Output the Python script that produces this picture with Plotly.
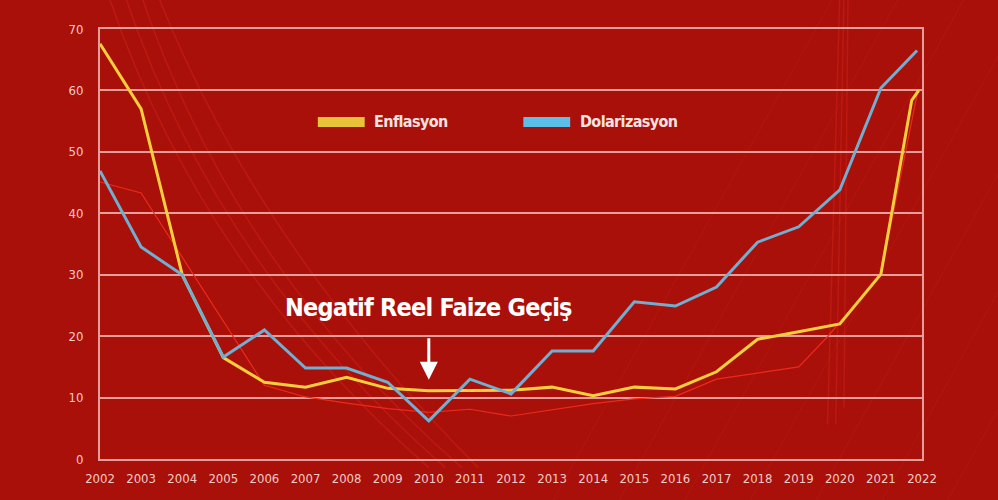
import plotly.graph_objects as go

# Data
YEARS = list(range(2002, 2022))
ENFLASYON = [67.6, 57.0, 30.0, 16.5, 12.5, 11.7, 13.3, 11.5, 11.1, 11.1,
             11.2, 11.7, 10.3, 11.7, 11.4, 14.2, 19.5, 20.7, 22.0, 30.1]
ENF_TAIL_X = [2021.6, 2021.75, 2021.92]        # last months of 2021
ENF_TAIL_Y = [52.5, 58.4, 60.0]

DOLAR_X = YEARS + [2021.88]
DOLAR_Y = [46.9, 34.5, 30.0, 16.6, 21.0, 14.8, 14.8, 12.5, 6.2, 13.0,
           10.6, 17.6, 17.6, 25.6, 24.9, 28.0, 35.3, 37.8, 43.8, 60.4, 66.5]

# thin red decorative series behind the main lines
RED_X = [2002, 2003, 2006, 2007, 2008, 2009, 2010, 2011, 2012, 2013, 2014,
         2015, 2016, 2017, 2018, 2019, 2019.7, 2021, 2021.9]
RED_Y = [45.1, 43.3, 12.0, 10.1, 9.1, 8.2, 7.6, 8.1, 7.0, 8.0, 9.0,
         9.8, 10.2, 13.0, 14.0, 15.0, 19.9, 30.0, 60.0]

Y_TICKS = [0, 10, 20, 30, 40, 50, 60, 70]
X_TICKS = list(range(2002, 2023))

# Colours
BG = "#a9100a"
GRID = "rgba(240,185,180,0.85)"
TICK = "#f2cbc7"
YELLOW = "#f7cf3c"
BLUE = "#6fb0d2"
RED = "#ec2a1c"
FONT = "DejaVu Sans Condensed, DejaVu Sans, sans-serif"


def narrow(s, spacing=0):
    # condensed face via inline style (plotly has no font-stretch option)
    style = "font-stretch:condensed"
    if spacing:
        style += ";letter-spacing:%spx" % spacing
    return '<span style="' + style + '">' + str(s) + "</span>"


fig = go.Figure()

fig.add_trace(go.Scatter(x=RED_X, y=RED_Y, mode="lines",
                         line=dict(color=RED, width=1.2), hoverinfo="skip"))
fig.add_trace(go.Scatter(x=YEARS + ENF_TAIL_X, y=ENFLASYON + ENF_TAIL_Y,
                         mode="lines", name="Enflasyon",
                         line=dict(color=YELLOW, width=3)))
fig.add_trace(go.Scatter(x=DOLAR_X, y=DOLAR_Y, mode="lines",
                         name="Dolarizasyon",
                         line=dict(color=BLUE, width=3)))

# faint background sweeps (decoration)
deco = [
    "M 0.01,1.08 Q 0.12,0.45 0.40,-0.02",
    "M 0.03,1.08 Q 0.14,0.45 0.42,-0.02",
    "M 0.05,1.08 Q 0.16,0.45 0.44,-0.02",
    "M 0.07,1.08 Q 0.19,0.50 0.46,-0.02",
    "M 0.90,1.08 L 0.885,0.08",
    "M 0.905,1.08 L 0.895,0.08",
    "M 0.91,1.08 L 0.905,0.12",
]
for p in deco:
    fig.add_shape(type="path", path=p, xref="paper", yref="paper",
                  line=dict(color="rgba(255,60,40,0.22)", width=1.5),
                  layer="below")
for i in range(8):
    x0 = 0.55 + i * 0.08
    fig.add_shape(type="line", xref="paper", yref="paper",
                  x0=x0, y0=-0.1, x1=x0 + 0.35, y1=1.1,
                  line=dict(color="rgba(255,70,50,0.10)", width=1),
                  layer="below")

# custom legend
legend_items = [("Enflasyon", "#e8c33a", 0.265), ("Dolarizasyon", "#5cbfe8", 0.515)]
for label, col, x0 in legend_items:
    fig.add_shape(type="line", xref="paper", yref="paper",
                  x0=x0, x1=x0 + 0.057, y0=0.784, y1=0.784,
                  line=dict(color=col, width=10))
    fig.add_annotation(xref="paper", yref="paper", x=x0 + 0.066, y=0.786,
                       text=narrow(label, -0.6), showarrow=False, xanchor="left",
                       yanchor="middle",
                       font=dict(family=FONT, size=16, color="#f7e2e0",
                                 weight="bold"))

# annotation with arrow
fig.add_annotation(x=2010, y=24.6, text=narrow("Negatif Reel Faize Geçiş", -0.8),
                   showarrow=False, yanchor="middle",
                   font=dict(family=FONT, size=25, color="white",
                             weight="bold"))
fig.add_annotation(x=2010, y=12.9, text="", showarrow=True, ax=0, ay=-43,
                   arrowcolor="white", arrowwidth=3, arrowhead=2, arrowsize=1.2)

fig.update_xaxes(range=[2002, 2022], tickvals=X_TICKS,
                 ticktext=[narrow(v) for v in X_TICKS], showgrid=False,
                 showline=True, mirror=True, linecolor=GRID, linewidth=2,
                 zeroline=False,
                 tickfont=dict(family=FONT, size=13, color=TICK),
                 ticks="", ticklabelstandoff=6)
fig.update_yaxes(range=[0, 70], tickvals=Y_TICKS,
                 ticktext=[narrow(v) for v in Y_TICKS], showgrid=True,
                 gridcolor=GRID, gridwidth=1.5,
                 showline=True, mirror=True, linecolor=GRID, linewidth=2,
                 zeroline=False,
                 tickfont=dict(family=FONT, size=13, color=TICK),
                 ticks="", ticklabelstandoff=12)

fig.update_layout(
    width=998, height=500,
    showlegend=False,
    plot_bgcolor=BG,
    paper_bgcolor=BG,
    margin=dict(l=100, r=76, t=29, b=41),
    font=dict(family=FONT),
)

# drop the default page margin so the figure sits at the window origin
fig.write_html("out.html", config={"displayModeBar": False},
               post_script="document.body.style.margin='0px';"
                           "document.body.style.background='" + BG + "';")
